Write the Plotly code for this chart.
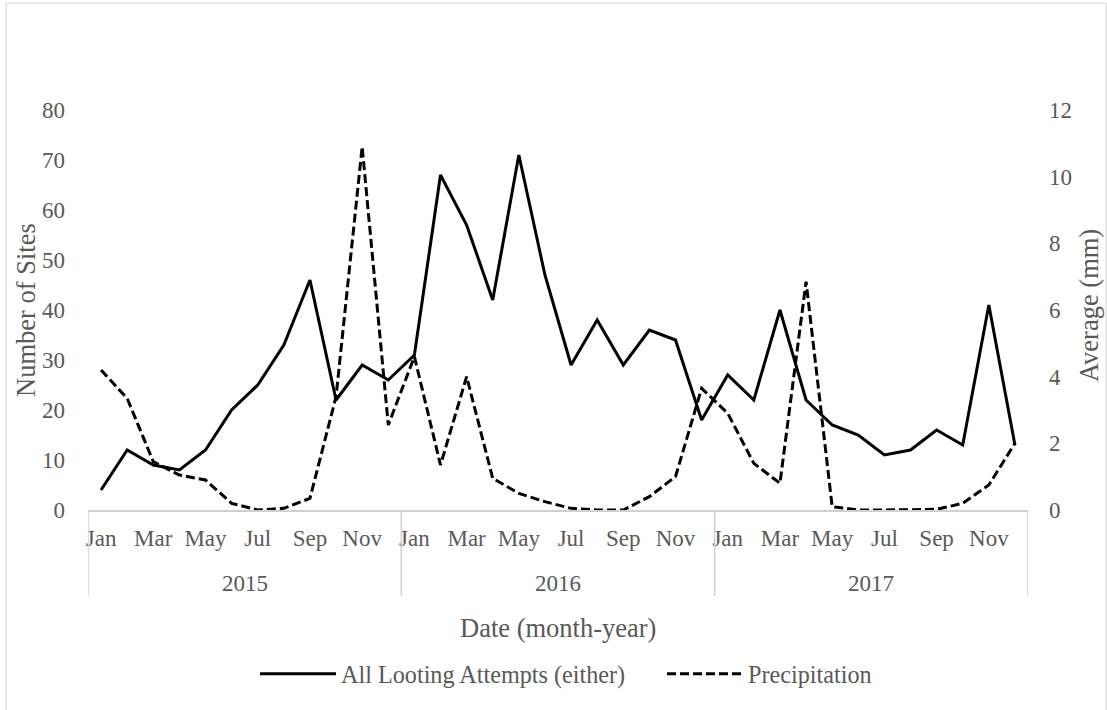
import plotly.graph_objects as go

# ---- data ----
years = ["2015", "2016", "2017"]
month_ticks = ["Jan", "Mar", "May", "Jul", "Sep", "Nov"]
looting = [4, 12, 9, 8, 12, 20, 25, 33, 46, 22, 29, 26,
           31, 67, 57, 42, 71, 47, 29, 38, 29, 36, 34, 18,
           27, 22, 40, 22, 17, 15, 11, 12, 16, 13, 41, 13]
precip = [4.2, 3.35, 1.45, 1.05, 0.9, 0.2, 0.0, 0.05, 0.35, 3.4, 10.9, 2.55,
          4.6, 1.35, 4.0, 0.95, 0.5, 0.25, 0.05, 0.0, 0.0, 0.4, 1.0, 3.65,
          2.9, 1.4, 0.8, 6.85, 0.1, 0.0, 0.0, 0.0, 0.02, 0.2, 0.75, 2.0]
left_ticks = [0, 10, 20, 30, 40, 50, 60, 70, 80]
right_ticks = [0, 2, 4, 6, 8, 10, 12]

n = len(looting)
x = list(range(n))
per_year = n // len(years)

FONT = "Liberation Serif, Times New Roman, serif"
GRAY = "#595959"
LGRAY = "#d0d0d0"

fig = go.Figure()
fig.add_trace(go.Scatter(x=x, y=looting, mode="lines", name="All Looting Attempts (either)",
                         line=dict(color="black", width=3), yaxis="y"))
fig.add_trace(go.Scatter(x=x, y=precip, mode="lines", name="Precipitation",
                         line=dict(color="black", width=3, dash="9px,4px"), yaxis="y2"))

tickvals = list(range(0, n, 2))
ticktext = [month_ticks[(i % per_year) // 2] for i in tickvals]

shapes = []
for k in range(len(years) + 1):
    shapes.append(dict(type="line", xref="x", yref="paper", x0=k * per_year - 0.5, x1=k * per_year - 0.5,
                       y0=0, y1=-0.215, line=dict(color=LGRAY, width=1.5)))
# outer chart border
shapes.append(dict(type="rect", xref="paper", yref="paper", x0=-0.0872, x1=1.083, y0=-0.505, y1=1.2675,
                   line=dict(color="#d9d9d9", width=1.2), fillcolor="rgba(0,0,0,0)", layer="below"))

annotations = []
for k, yr in enumerate(years):
    annotations.append(dict(text=yr, x=k * per_year + (per_year - 1) / 2, xref="x", y=-0.1825, yref="paper",
                            showarrow=False, xanchor="center", yanchor="middle",
                            font=dict(family=FONT, size=23, color=GRAY)))
annotations.append(dict(text="Date (month-year)", x=0.5, xref="paper", y=-0.295, yref="paper",
                        showarrow=False, xanchor="center", yanchor="middle",
                        font=dict(family=FONT, size=26.5, color=GRAY)))
annotations.append(dict(text="Number of Sites", x=-0.066, xref="paper", y=0.5, yref="paper",
                        showarrow=False, xanchor="center", yanchor="middle", textangle=-90,
                        font=dict(family=FONT, size=26.5, color=GRAY)))
annotations.append(dict(text="Average (mm)", x=1.065, xref="paper", y=0.51, yref="paper",
                        showarrow=False, xanchor="center", yanchor="middle", textangle=-90,
                        font=dict(family=FONT, size=26.5, color=GRAY)))

fig.update_layout(
    width=1107, height=710,
    margin=dict(l=88, r=79, t=110, b=200),
    paper_bgcolor="white", plot_bgcolor="white",
    font=dict(family=FONT, size=23, color=GRAY),
    showlegend=True,
    legend=dict(orientation="h", x=(255 - 88) / 940, xanchor="left", y=-0.41, yanchor="middle",
                font=dict(family=FONT, size=24.2, color=GRAY), itemwidth=76, entrywidth=316,
                traceorder="normal"),
    xaxis=dict(range=[-0.5, n - 0.5], tickmode="array", tickvals=tickvals, ticktext=ticktext,
               showgrid=False, zeroline=False, showline=True, linecolor=LGRAY, linewidth=1.5,
               ticks="", ticklabelstandoff=7, tickfont=dict(family=FONT, size=23, color=GRAY)),
    yaxis=dict(range=[0, 80], tickmode="array", tickvals=left_ticks, showgrid=False, zeroline=False,
               showline=False, ticks="", ticklabelstandoff=22,
               tickfont=dict(family=FONT, size=23, color=GRAY)),
    yaxis2=dict(range=[0, 12], tickmode="array", tickvals=right_ticks, overlaying="y", side="right",
                showgrid=False, zeroline=False, showline=False, ticks="", ticklabelstandoff=20,
                tickfont=dict(family=FONT, size=23, color=GRAY)),
    shapes=shapes, annotations=annotations,
)

fig.write_html("out.html", config={"displayModeBar": False},
               post_script="document.body.style.margin='0';")
